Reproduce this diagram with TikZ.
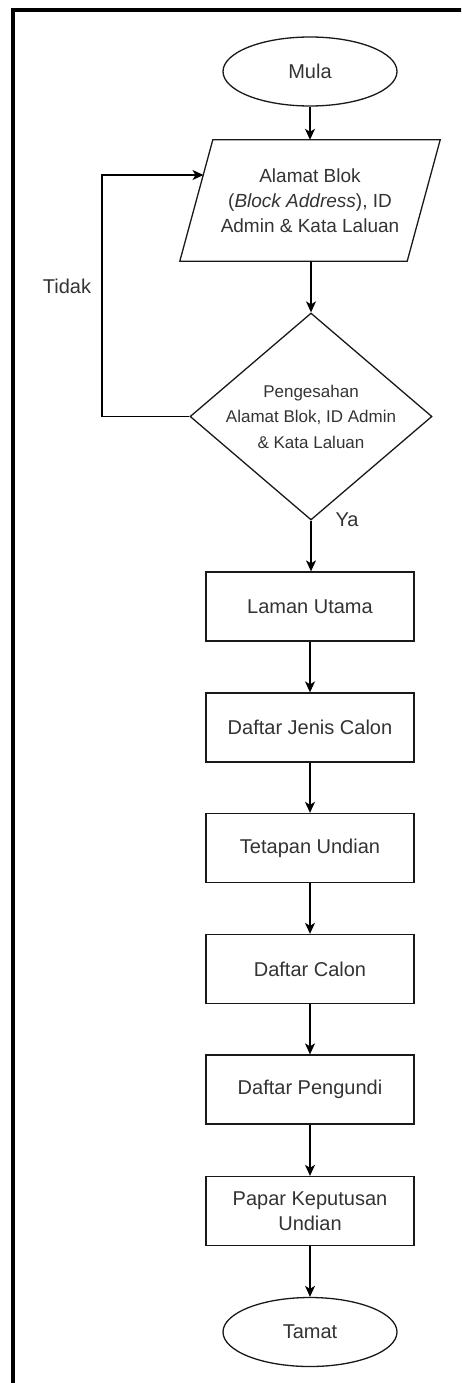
\documentclass[tikz,border=0pt]{standalone}
\usepackage{fontspec}
\setmainfont{Liberation Sans}
\usetikzlibrary{shapes.geometric,arrows.meta,calc}

\tikzset{
  shapeline/.style={draw=black!90, line width=1.3pt},
  txt/.style={text=black!80, align=center, font=\fontsize{20}{25}\selectfont},
  terminal/.style={shapeline, txt, ellipse, inner sep=0pt, minimum width=174pt, minimum height=69pt},
  process/.style={shapeline, txt, rectangle, inner sep=0pt, minimum width=208pt, minimum height=69pt},
  ioframe/.style={txt, rectangle, inner sep=0pt, minimum width=227pt, minimum height=121pt,
                  font=\fontsize{19}{25}\selectfont},
  decision/.style={shapeline, diamond, inner sep=0pt, minimum width=242pt, minimum height=207pt},
  dectext/.style={txt, font=\fontsize{17}{25.5}\selectfont},
  flow/.style={draw=black, line width=1.3pt, -{Stealth[length=11pt,width=10pt,inset=3pt]}},
  edgelabel/.style={txt, inner sep=0pt},
}

\begin{document}
\begin{tikzpicture}[x=1pt, y=-1pt]
  \useasboundingbox (0,0) rectangle (461,1383);
  \begin{scope}
    \clip (0,0) rectangle (461,1383);
    % outer frame
    \draw[line width=4pt] (13,1400) -- (13,10.5) -- (480,10.5);
  \end{scope}

  % start
  \node[terminal] (mula) at (310,71.5) {Mula};

  % input (parallelogram drawn around an invisible frame node)
  \node[ioframe] (inp) at (310,200.5)
    {Alamat Blok\\(\textit{Block Address}), ID\\Admin \& Kata Laluan};
  \draw[shapeline] ($(inp.north west)+(16.5,0)$) -- ($(inp.north east)+(16.5,0)$)
    -- ($(inp.south east)+(-16.5,0)$) -- ($(inp.south west)+(-16.5,0)$) -- cycle;
  \coordinate (inpleft) at (203.5,175);

  % validation
  \node[decision, label={[dectext]center:{Pengesahan\\Alamat Blok, ID Admin\\\& Kata Laluan}}]
    (dec) at (311,416.5) {};

  % processes
  \node[process] (laman)   at (310,606.5) {Laman Utama};
  \node[process] (jenis)   at (310,727.5) {Daftar Jenis Calon};
  \node[process] (tetapan) at (310,848)   {Tetapan Undian};
  \node[process] (calon)   at (310,969)   {Daftar Calon};
  \node[process] (pengundi)at (310,1089.5){Daftar Pengundi};
  \node[process] (papar)   at (310,1211)  {Papar Keputusan\\Undian};

  % end
  \node[terminal] (tamat) at (310,1332) {Tamat};

  % connectors
  \draw[flow] (mula) -- (mula |- inp.north);
  \draw[flow] (inp.south -| dec.north) -- (dec.north);
  \draw[flow] (dec.south) -- (dec.south |- laman.north);
  \draw[flow] (dec.west) -- (102,416.5) |- (inpleft);
  \draw[flow] (laman) -- (jenis);
  \draw[flow] (jenis) -- (tetapan);
  \draw[flow] (tetapan) -- (calon);
  \draw[flow] (calon) -- (pengundi);
  \draw[flow] (pengundi) -- (papar);
  \draw[flow] (papar) -- (tamat);

  % branch labels
  \node[edgelabel] (tidak) at (67,286) {Tidak};
  \node[edgelabel] (ya) at (347,520) {Ya};
\end{tikzpicture}
\end{document}
